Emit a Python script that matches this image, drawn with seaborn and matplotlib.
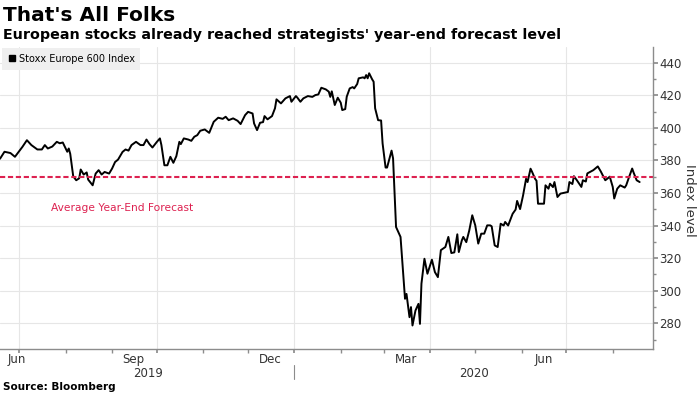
import pandas as pd
import seaborn as sns
import matplotlib.pyplot as plt
import matplotlib.dates as mdates
import matplotlib.transforms as mtransforms
from matplotlib.ticker import MultipleLocator, NullFormatter
from matplotlib.lines import Line2D

# Stoxx Europe 600
dates = [
    '2019-06-18', '2019-06-21', '2019-06-25', '2019-06-28', '2019-07-03', '2019-07-06',
    '2019-07-09', '2019-07-13', '2019-07-16', '2019-07-18', '2019-07-20', '2019-07-23',
    '2019-07-26', '2019-07-28', '2019-07-30', '2019-08-02', '2019-08-03', '2019-08-04',
    '2019-08-06', '2019-08-08', '2019-08-10', '2019-08-11', '2019-08-13', '2019-08-15',
    '2019-08-16', '2019-08-19', '2019-08-21', '2019-08-23', '2019-08-25', '2019-08-27',
    '2019-08-30', '2019-09-01', '2019-09-03', '2019-09-05', '2019-09-08', '2019-09-10',
    '2019-09-12', '2019-09-14', '2019-09-17', '2019-09-20', '2019-09-22', '2019-09-24',
    '2019-09-26', '2019-09-28', '2019-10-01', '2019-10-03', '2019-10-04', '2019-10-06',
    '2019-10-08', '2019-10-10', '2019-10-12', '2019-10-14', '2019-10-16', '2019-10-17',
    '2019-10-19', '2019-10-22', '2019-10-24', '2019-10-26', '2019-10-28', '2019-10-30',
    '2019-11-02', '2019-11-05', '2019-11-08', '2019-11-11', '2019-11-14', '2019-11-16',
    '2019-11-18', '2019-11-21', '2019-11-24', '2019-11-26', '2019-11-29', '2019-12-01',
    '2019-12-04', '2019-12-05', '2019-12-07', '2019-12-09', '2019-12-11', '2019-12-12',
    '2019-12-14', '2019-12-17', '2019-12-19', '2019-12-20', '2019-12-23', '2019-12-26',
    '2019-12-29', '2019-12-30', '2020-01-02', '2020-01-03', '2020-01-05', '2020-01-07',
    '2020-01-10', '2020-01-13', '2020-01-15', '2020-01-17', '2020-01-19', '2020-01-22',
    '2020-01-24', '2020-01-25', '2020-01-26', '2020-01-28', '2020-01-30', '2020-02-01',
    '2020-02-02', '2020-02-04', '2020-02-05', '2020-02-07', '2020-02-09', '2020-02-10',
    '2020-02-12', '2020-02-13', '2020-02-16', '2020-02-17', '2020-02-18', '2020-02-19',
    '2020-02-20', '2020-02-22', '2020-02-23', '2020-02-24', '2020-02-26', '2020-02-28',
    '2020-02-29', '2020-03-02', '2020-03-03', '2020-03-06', '2020-03-07', '2020-03-09',
    '2020-03-12', '2020-03-15', '2020-03-16', '2020-03-18', '2020-03-19', '2020-03-20',
    '2020-03-22', '2020-03-24', '2020-03-25', '2020-03-26', '2020-03-28', '2020-03-30',
    '2020-04-02', '2020-04-04', '2020-04-06', '2020-04-08', '2020-04-11', '2020-04-13',
    '2020-04-15', '2020-04-17', '2020-04-19', '2020-04-20', '2020-04-22', '2020-04-23',
    '2020-04-25', '2020-04-27', '2020-04-29', '2020-05-01', '2020-05-03', '2020-05-05',
    '2020-05-07', '2020-05-09', '2020-05-11', '2020-05-12', '2020-05-14', '2020-05-16',
    '2020-05-18', '2020-05-20', '2020-05-21', '2020-05-23', '2020-05-26', '2020-05-28',
    '2020-05-29', '2020-05-31', '2020-06-02', '2020-06-04', '2020-06-05', '2020-06-07',
    '2020-06-08', '2020-06-10', '2020-06-11', '2020-06-12', '2020-06-16', '2020-06-17',
    '2020-06-19', '2020-06-20', '2020-06-22', '2020-06-23', '2020-06-25', '2020-06-27',
    '2020-06-29', '2020-07-02', '2020-07-03', '2020-07-05', '2020-07-06', '2020-07-08',
    '2020-07-11', '2020-07-12', '2020-07-14', '2020-07-15', '2020-07-17', '2020-07-19',
    '2020-07-22', '2020-07-24', '2020-07-27', '2020-07-28', '2020-07-30', '2020-08-01',
    '2020-08-02', '2020-08-04', '2020-08-06', '2020-08-09', '2020-08-10', '2020-08-12',
    '2020-08-14', '2020-08-15', '2020-08-17', '2020-08-19',
]
values = [
    381.0, 385.3, 384.5, 382.2, 388.3, 392.4,
    389.4, 386.7, 386.7, 389.4, 387.3, 388.5,
    391.4, 390.5, 391.0, 385.3, 387.3, 384.0,
    370.2, 367.8, 369.0, 374.4, 371.3, 372.6,
    368.2, 364.7, 371.9, 374.0, 371.3, 372.9,
    371.9, 375.0, 379.0, 380.5, 385.2, 386.7,
    386.0, 389.4, 391.4, 389.4, 389.4, 392.8,
    390.0, 387.9, 391.4, 393.5, 389.4, 377.0,
    377.0, 382.2, 378.5, 382.6, 391.4, 390.0,
    393.5, 392.8, 392.0, 394.5, 395.5, 398.2,
    399.0, 396.9, 403.7, 406.2, 405.5, 406.8,
    404.7, 405.8, 404.3, 402.3, 407.8, 409.8,
    408.8, 402.7, 398.6, 403.1, 403.5, 407.2,
    405.2, 407.2, 412.0, 417.5, 415.0, 418.1,
    419.5, 416.0, 419.5, 418.5, 416.0, 418.1,
    419.5, 419.0, 420.1, 420.5, 424.6, 423.6,
    422.2, 419.0, 422.4, 414.0, 418.5, 415.4,
    410.9, 411.5, 419.1, 424.2, 425.0, 424.2,
    426.9, 430.4, 431.0, 430.4, 432.4, 430.4,
    433.5, 429.8, 428.3, 412.0, 404.7, 404.5,
    390.4, 375.6, 375.6, 386.0, 381.3, 339.1,
    333.0, 295.0, 298.0, 283.7, 289.9, 278.6,
    287.8, 291.9, 279.6, 304.3, 319.6, 310.4,
    319.0, 311.4, 308.3, 324.9, 326.8, 333.0,
    323.1, 323.5, 334.6, 323.7, 330.8, 333.0,
    329.8, 337.0, 346.3, 340.1, 328.9, 335.0,
    335.0, 340.1, 340.1, 339.5, 327.8, 326.8,
    341.1, 340.0, 342.2, 340.0, 347.2, 349.8,
    355.1, 350.1, 358.5, 368.7, 366.7, 374.9,
    373.0, 368.7, 367.5, 353.4, 353.4, 364.7,
    362.6, 365.7, 363.6, 366.7, 357.5, 359.6,
    360.0, 360.6, 366.7, 365.5, 370.3, 367.8,
    363.7, 367.8, 367.0, 372.0, 373.0, 374.0,
    376.3, 373.2, 367.8, 368.5, 370.0, 363.7,
    356.6, 362.6, 364.7, 363.3, 364.7, 370.0,
    375.0, 372.4, 367.8, 366.7,
]
forecast = 370

month_labels = ['Jun', 'Sep', 'Dec', 'Mar', 'Jun']
month_label_dates = ['2019-06-29', '2019-09-15', '2019-12-16', '2020-03-16', '2020-06-16']
year_labels = ['2019', '2020']
year_label_dates = ['2019-09-25', '2020-04-30']

red = '#dd2150'
grey = '#8c8c8c'

df = pd.DataFrame({'date': pd.to_datetime(dates), 'value': values})

sns.set_theme(style='white')
plt.rcParams['font.family'] = ['DejaVu Sans']
plt.rcParams['text.color'] = 'black'

fig = plt.figure(figsize=(7, 3.94), dpi=100)
ax = fig.add_axes([0.0, 0.1135, 0.933, 0.7675])

sns.lineplot(data=df, x='date', y='value', color='black', linewidth=1.4, ax=ax)
ax.axhline(forecast, color=red, linestyle=(0, (2.5, 1.3)), linewidth=1.5)
ax.text(pd.Timestamp('2019-07-22'), 350.6, 'Average Year-End Forecast',
        color=red, fontsize=7.7, va='center')

ax.set_xlim(pd.Timestamp('2019-06-18'), pd.Timestamp('2020-08-28'))
ax.set_ylim(264, 449.7)

# y axis on the right
ax.yaxis.tick_right()
ax.set_yticks(range(280, 441, 20))
ax.yaxis.set_minor_locator(MultipleLocator(10))
ax.tick_params(axis='y', which='major', length=3.5, color=grey, labelsize=8.5,
               labelcolor='#333333', pad=1, right=True, left=False)
ax.tick_params(axis='y', which='minor', length=2.5, color=grey, right=True, left=False)
ax.set_ylabel('')
ax.set_xlabel('')
fig.text(689 / 700, 1 - 200 / 394, 'Index level', rotation=270, fontsize=9.5,
         color='#333333', ha='center', va='center')

# x axis: quarterly gridlines, monthly ticks
ax.xaxis.set_major_locator(mdates.MonthLocator(bymonth=[1, 4, 7, 10]))
ax.xaxis.set_minor_locator(mdates.MonthLocator())
ax.xaxis.set_major_formatter(NullFormatter())
ax.tick_params(axis='x', which='both', length=3, color=grey, bottom=True)

ax.grid(True, which='major', color='#e6e6e6', linewidth=0.8)

for side in ['left', 'top']:
    ax.spines[side].set_visible(False)
for side in ['bottom', 'right']:
    ax.spines[side].set_color(grey)
    ax.spines[side].set_linewidth(1)

trans = mtransforms.blended_transform_factory(ax.transData, ax.transAxes)
for lab, d in zip(month_labels, month_label_dates):
    ax.text(pd.Timestamp(d), -0.0443, lab, transform=trans, ha='center', va='baseline',
            fontsize=8.5, color='#333333')
for lab, d in zip(year_labels, year_label_dates):
    ax.text(pd.Timestamp(d), -0.0906, lab, transform=trans, ha='center', va='baseline',
            fontsize=8.5, color='#333333')
jan1 = pd.Timestamp('2020-01-01')
ax.plot([jan1, jan1], [-0.052, -0.098], transform=trans, color=grey, lw=0.8, clip_on=False)

handle = Line2D([0], [0], marker='s', color='black', linestyle='none', markersize=5)
ax.legend([handle], ['Stoxx Europe 600 Index'], loc='upper left',
          bbox_to_anchor=(0.003, 0.878), bbox_transform=fig.transFigure,
          frameon=True, facecolor='#efefef', edgecolor='none', fancybox=False,
          framealpha=1, fontsize=7, handlelength=0.8, handletextpad=0.3,
          borderpad=0.6, borderaxespad=0)

fig.text(3 / 700, 0.9467, "That's All Folks", fontsize=14.5, fontweight='bold',
         va='baseline', color='black')
fig.text(3 / 700, 0.900, "European stocks already reached strategists' year-end forecast level",
         fontsize=10.3, fontweight='bold', va='baseline', color='black')
fig.text(3 / 700, 0.0102, 'Source: Bloomberg', fontsize=7.5, fontweight='bold',
         va='baseline', color='black')

fig.savefig('out.png', dpi=100)
